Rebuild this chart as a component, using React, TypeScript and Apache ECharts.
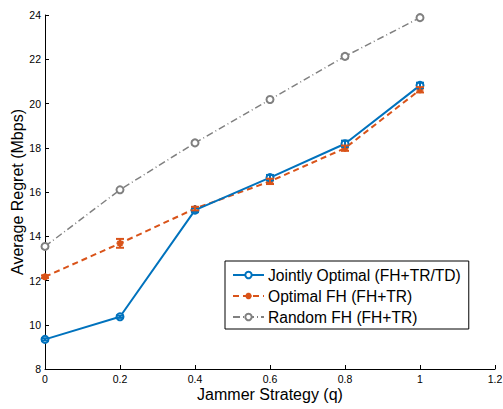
import React, { useEffect, useRef } from "react";
import * as echarts from "echarts";

const xValues = [0, 0.2, 0.4, 0.6, 0.8, 1];
const jointlyOptimal = [9.34, 10.36, 15.18, 16.65, 18.18, 20.82];
const optimalFH = [12.17, 13.68, 15.25, 16.48, 17.98, 20.62];
const randomFH = [13.54, 16.1, 18.22, 20.18, 22.13, 23.88];
const jointlyErr = [0.05, 0.05, 0.08, 0.12, 0.14, 0.12];
const optimalErr = [0.06, 0.2, 0.08, 0.12, 0.12, 0.12];
const randomErr = [0.04, 0.05, 0.05, 0.05, 0.1, 0.05];
const seriesNames = [
  "Jointly Optimal (FH+TR/TD)",
  "Optimal FH (FH+TR)",
  "Random FH (FH+TR)",
];
const colors = ["#0072BD", "#D95319", "#808080"];

const FONT = "Liberation Sans, Arial, Helvetica, sans-serif";

function errData(vals: number[], errs: number[]) {
  return xValues.map((x, i) => [x, vals[i] - errs[i], vals[i] + errs[i]]);
}

function errSeries(vals: number[], errs: number[], color: string, z: number, lw: number) {
  return {
    type: "custom",
    data: errData(vals, errs),
    z,
    silent: true,
    renderItem: (params: any, api: any) => {
      const x = api.value(0);
      const lo = api.coord([x, api.value(1)]);
      const hi = api.coord([x, api.value(2)]);
      const w = 4;
      const style = { stroke: color, lineWidth: lw };
      return {
        type: "group",
        children: [
          { type: "line", shape: { x1: lo[0], y1: lo[1], x2: hi[0], y2: hi[1] }, style },
          { type: "line", shape: { x1: lo[0] - w, y1: lo[1], x2: lo[0] + w, y2: lo[1] }, style },
          { type: "line", shape: { x1: hi[0] - w, y1: hi[1], x2: hi[0] + w, y2: hi[1] }, style },
        ],
      };
    },
  };
}

const asterisk =
  "path://M5,0L5,10M0,5L10,5M1.5,1.5L8.5,8.5M1.5,8.5L8.5,1.5";

export default function App() {
  const ref = useRef<HTMLDivElement>(null);
  useEffect(() => {
    if (!ref.current) return;
    const chart = echarts.init(ref.current, undefined, { renderer: "svg" });
    const pts = (vals: number[]) => xValues.map((x, i) => [x, vals[i]]);
    chart.setOption({
      animation: false,
      backgroundColor: "#fff",
      textStyle: { fontFamily: FONT },
      grid: { left: 45, right: 8, top: 15, bottom: 40, outerBoundsMode: "none", containLabel: false },
      xAxis: {
        type: "value",
        min: 0,
        max: 1.2,
        interval: 0.2,
        name: "Jammer Strategy (q)",
        nameLocation: "middle",
        nameGap: 17,
        nameMoveOverlap: false,
        nameTextStyle: { fontSize: 16, color: "#000", fontFamily: FONT },
        axisLine: { lineStyle: { color: "#000", width: 1 } },
        axisTick: { inside: true, length: 4, lineStyle: { color: "#000" } },
        axisLabel: {
          fontSize: 10.5,
          color: "#000",
          margin: 4,
          fontFamily: FONT,
          formatter: (v: number) => String(+v.toFixed(1)),
        },
        splitLine: { show: false },
      },
      yAxis: {
        type: "value",
        min: 8,
        max: 24,
        interval: 2,
        name: "Average Regret (Mbps)",
        nameLocation: "middle",
        nameGap: 20,
        nameMoveOverlap: false,
        nameTextStyle: { fontSize: 16, color: "#000", fontFamily: FONT },
        axisLine: { show: true, lineStyle: { color: "#000", width: 1 } },
        axisTick: { show: true, inside: true, length: 4, lineStyle: { color: "#000" } },
        axisLabel: { fontSize: 10.5, color: "#000", margin: 4, fontFamily: FONT },
        splitLine: { show: false },
      },
      legend: {
        orient: "vertical",
        left: 225,
        top: 261,
        data: seriesNames,
        backgroundColor: "#fff",
        borderColor: "#000",
        borderWidth: 1,
        borderRadius: 0,
        padding: [6, 8, 4, 7],
        itemWidth: 31,
        itemHeight: 8,
        itemGap: 5,
        textStyle: { fontSize: 15.6, color: "#000", fontFamily: FONT, padding: [0, 0, 0, -1] },
      },
      series: [
        {
          name: seriesNames[0],
          type: "line",
          data: pts(jointlyOptimal),
          symbol: "emptyCircle",
          symbolSize: 7,
          color: colors[0],
          lineStyle: { width: 2, color: colors[0] },
          itemStyle: { color: colors[0], borderColor: colors[0], borderWidth: 2 },
          z: 4,
        },
        {
          name: seriesNames[1],
          type: "line",
          data: pts(optimalFH),
          symbol: asterisk,
          symbolSize: 7,
          color: colors[1],
          lineStyle: { width: 2, color: colors[1], type: [6, 4] },
          itemStyle: { color: colors[1], borderColor: colors[1], borderWidth: 2 },
          z: 3,
        },
        {
          name: seriesNames[2],
          type: "line",
          data: pts(randomFH),
          symbol: "emptyCircle",
          symbolSize: 7,
          color: colors[2],
          lineStyle: { width: 1.5, color: colors[2], type: [7, 3, 1, 3] },
          itemStyle: { color: colors[2], borderColor: colors[2], borderWidth: 1.3 },
          z: 2,
        },
        errSeries(jointlyOptimal, jointlyErr, colors[0], 5, 2),
        errSeries(optimalFH, optimalErr, colors[1], 5, 2),
        errSeries(randomFH, randomErr, colors[2], 1, 1.2),
      ],
    });
    return () => chart.dispose();
  }, []);
  return <div ref={ref} style={{ width: 503, height: 409, position: "absolute", left: 0, top: 0 }} />;
}
